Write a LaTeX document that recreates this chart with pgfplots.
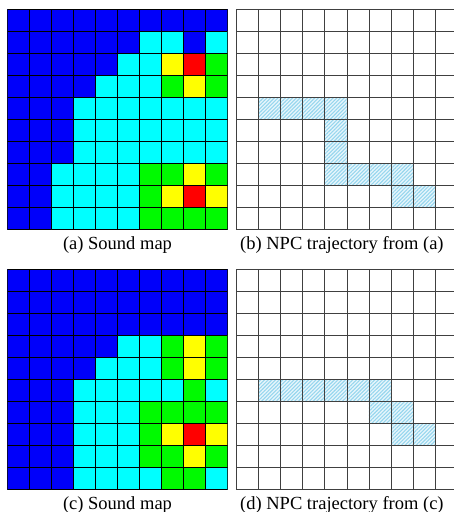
\documentclass[border=0pt]{standalone}
\usepackage{pgfplots}
\pgfplotsset{compat=1.18}
\usepackage{pgfplotstable}
\usepackage{fontspec}
\setmainfont{Liberation Serif}
\usetikzlibrary{patterns.meta}

% sound maps: x y level (0 blue, 1 cyan, 2 green, 3 yellow, 4 red), row 0 = top
\pgfplotstableread[row sep=\\]{
x y c\\
0 0 0\\1 0 0\\2 0 0\\3 0 0\\4 0 0\\5 0 0\\6 0 0\\7 0 0\\8 0 0\\9 0 0\\
0 1 0\\1 1 0\\2 1 0\\3 1 0\\4 1 0\\5 1 0\\6 1 1\\7 1 1\\8 1 0\\9 1 1\\
0 2 0\\1 2 0\\2 2 0\\3 2 0\\4 2 0\\5 2 1\\6 2 1\\7 2 3\\8 2 4\\9 2 2\\
0 3 0\\1 3 0\\2 3 0\\3 3 0\\4 3 1\\5 3 1\\6 3 1\\7 3 2\\8 3 3\\9 3 2\\
0 4 0\\1 4 0\\2 4 0\\3 4 1\\4 4 1\\5 4 1\\6 4 1\\7 4 1\\8 4 1\\9 4 1\\
0 5 0\\1 5 0\\2 5 0\\3 5 1\\4 5 1\\5 5 1\\6 5 1\\7 5 1\\8 5 1\\9 5 1\\
0 6 0\\1 6 0\\2 6 0\\3 6 1\\4 6 1\\5 6 1\\6 6 1\\7 6 1\\8 6 1\\9 6 1\\
0 7 0\\1 7 0\\2 7 1\\3 7 1\\4 7 1\\5 7 1\\6 7 2\\7 7 2\\8 7 3\\9 7 2\\
0 8 0\\1 8 0\\2 8 1\\3 8 1\\4 8 1\\5 8 1\\6 8 2\\7 8 3\\8 8 4\\9 8 3\\
0 9 0\\1 9 0\\2 9 1\\3 9 1\\4 9 1\\5 9 1\\6 9 2\\7 9 2\\8 9 2\\9 9 2\\
}\mapA

\pgfplotstableread[row sep=\\]{
x y c\\
0 0 0\\1 0 0\\2 0 0\\3 0 0\\4 0 0\\5 0 0\\6 0 0\\7 0 0\\8 0 0\\9 0 0\\
0 1 0\\1 1 0\\2 1 0\\3 1 0\\4 1 0\\5 1 0\\6 1 0\\7 1 0\\8 1 0\\9 1 0\\
0 2 0\\1 2 0\\2 2 0\\3 2 0\\4 2 0\\5 2 0\\6 2 0\\7 2 0\\8 2 0\\9 2 0\\
0 3 0\\1 3 0\\2 3 0\\3 3 0\\4 3 0\\5 3 1\\6 3 1\\7 3 2\\8 3 3\\9 3 2\\
0 4 0\\1 4 0\\2 4 0\\3 4 0\\4 4 1\\5 4 1\\6 4 1\\7 4 2\\8 4 3\\9 4 2\\
0 5 0\\1 5 0\\2 5 0\\3 5 1\\4 5 1\\5 5 1\\6 5 1\\7 5 1\\8 5 2\\9 5 1\\
0 6 0\\1 6 0\\2 6 0\\3 6 1\\4 6 1\\5 6 1\\6 6 2\\7 6 2\\8 6 2\\9 6 2\\
0 7 0\\1 7 0\\2 7 0\\3 7 1\\4 7 1\\5 7 1\\6 7 2\\7 7 3\\8 7 4\\9 7 3\\
0 8 0\\1 8 0\\2 8 0\\3 8 1\\4 8 1\\5 8 1\\6 8 2\\7 8 2\\8 8 3\\9 8 2\\
0 9 0\\1 9 0\\2 9 0\\3 9 1\\4 9 1\\5 9 1\\6 9 1\\7 9 2\\8 9 2\\9 9 1\\
}\mapC

\definecolor{hatchbg}{RGB}{232,246,252}
\definecolor{hatchfg}{RGB}{150,214,238}

\pgfplotsset{
  panel/.style={
    scale only axis, width=220.4bp, height=220.4bp,
    anchor=south west,
    xmin=-0.5, xmax=9.5, ymin=-0.5, ymax=9.5,
    y dir=reverse,
    axis line style={black!75, line width=0.8bp},
    xlabel style={font=\fontsize{18.5bp}{22bp}\selectfont,
      at={(axis description cs:0.5,0)}, anchor=base, yshift=-19.3bp},
  },
  soundmap/.style={panel,
    xtick=\empty, ytick=\empty,
    colormap={sound}{rgb255=(0,0,250) rgb255=(0,255,255) rgb255=(0,250,0)
      rgb255=(255,255,0) rgb255=(255,0,0)},
    colormap access=direct,
  },
  trajmap/.style={panel,
    axis on top,
    xtick={-0.5,0.5,...,9.5}, ytick={-0.5,0.5,...,9.5},
    xticklabels={}, yticklabels={},
    major tick length=0pt,
    grid=major,
    major grid style={black!75, line width=0.8bp},
  },
  hatch/.style={draw=none, fill=hatchbg,
    postaction={pattern={Lines[angle=45, distance=2.6bp, line width=1.1bp]},
      pattern color=hatchfg}},
}

\begin{document}
\begin{tikzpicture}
\useasboundingbox (0,0) rectangle (454bp,512bp);

\begin{axis}[soundmap, at={(7.3bp,282.3bp)}, xlabel={(a) Sound map}]
\addplot[matrix plot*, mesh/cols=10, point meta=explicit, draw=black, line width=0.85bp]
  table[x=x, y=y, meta=c] {\mapA};
\end{axis}

\begin{axis}[trajmap, at={(236.7bp,282.3bp)}, xlabel={(b) NPC trajectory from (a)},
  xlabel style={xshift=-5bp}]
\addplot[hatch] coordinates {(0.5,3.5) (4.5,3.5) (4.5,6.5) (7.5,6.5) (7.5,7.5)
  (8.5,7.5) (8.5,8.5) (6.5,8.5) (6.5,7.5) (3.5,7.5) (3.5,4.5) (0.5,4.5)} -- cycle;
\end{axis}

\begin{axis}[soundmap, at={(7.3bp,22.3bp)}, xlabel={(c) Sound map}]
\addplot[matrix plot*, mesh/cols=10, point meta=explicit, draw=black, line width=0.85bp]
  table[x=x, y=y, meta=c] {\mapC};
\end{axis}

\begin{axis}[trajmap, at={(236.7bp,22.3bp)}, xlabel={(d) NPC trajectory from (c)},
  xlabel style={xshift=-5bp}]
\addplot[hatch] coordinates {(0.5,4.5) (6.5,4.5) (6.5,5.5) (7.5,5.5) (7.5,6.5)
  (8.5,6.5) (8.5,7.5) (6.5,7.5) (6.5,6.5) (5.5,6.5) (5.5,5.5) (0.5,5.5)} -- cycle;
\end{axis}
\end{tikzpicture}
\end{document}
